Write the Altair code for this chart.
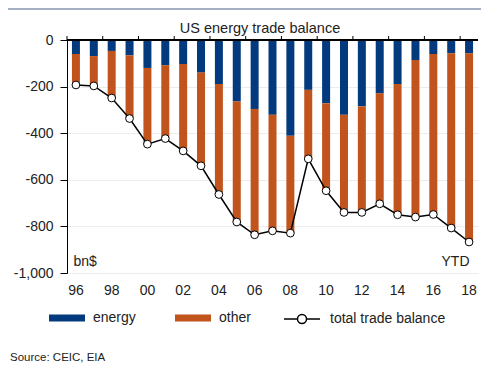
import altair as alt
import pandas as pd

years = ["96", "97", "98", "99", "00", "01", "02", "03", "04", "05", "06", "07",
         "08", "09", "10", "11", "12", "13", "14", "15", "16", "17", "18"]
energy = [-60, -69, -47, -66, -120, -108, -103, -140, -189, -264, -296, -321,
          -411, -214, -271, -321, -284, -229, -189, -86, -60, -57, -57]
other = [-133, -128, -202, -271, -327, -315, -373, -400, -474, -517, -540, -498,
         -418, -296, -376, -419, -456, -474, -561, -674, -689, -750, -810]
total = [-193, -197, -249, -337, -447, -423, -476, -540, -663, -781, -836, -819,
         -829, -510, -647, -740, -740, -703, -750, -760, -749, -807, -867]
label_years = ["96", "98", "00", "02", "04", "06", "08", "10", "12", "14", "16", "18"]
y_ticks = [0, -200, -400, -600, -800, -1000]

title_text = "US energy trade balance"
source_text = "Source: CEIC, EIA"
BLUE = "#033a7e"
ORANGE = "#c1531d"
FONT = "Liberation Sans"

W, H = 411, 233

bar_rows = []
for i, yr in enumerate(years):
    bar_rows.append({"year": yr, "series": "energy", "value": energy[i], "ord": 0})
    bar_rows.append({"year": yr, "series": "other", "value": other[i], "ord": 1})
bars_df = pd.DataFrame(bar_rows)
line_df = pd.DataFrame({"year": years, "total": total,
                        "name": ["total trade balance"] * len(years)})
tick_df = pd.DataFrame({"year": label_years})

xscale = alt.Scale(domain=years, paddingInner=0, paddingOuter=0)
yscale = alt.Scale(domain=[-1000, 0], nice=False)

x_enc = alt.X("year:O", scale=xscale, sort=years,
              axis=alt.Axis(values=label_years, ticks=False, domain=False,
                            labelAngle=0, labelPadding=10, labelFontSize=14,
                            labelFont=FONT, labelColor="#222222",
                            title="YTD", titleX=402, titleY=-8,
                            titleAlign="right", titleBaseline="alphabetic",
                            titleFontSize=14, titleFont=FONT,
                            titleFontWeight="normal", titleColor="#222222",
                            titleAnchor="end"))

path_bar = "M-1,-0.2H1V0.2H-1Z"
path_line = ("M-1,0H-0.25M0.25,0H1M0.25,0A0.25,0.25 0 1,1 -0.25,0"
             "A0.25,0.25 0 1,1 0.25,0")

bars = alt.Chart(bars_df).mark_bar(size=8).encode(
    x=x_enc,
    y=alt.Y("sum(value):Q", scale=yscale, stack="zero",
            axis=alt.Axis(values=y_ticks,
                          labelExpr="replace(format(datum.value, ',d'), '\u2212', '-')",
                          grid=True,
                          gridColor="#ececec", domainColor="black",
                          tickColor="black", tickSize=7, labelPadding=7,
                          labelFontSize=14, labelFont=FONT,
                          labelColor="#222222",
                          title="bn$", titleAngle=0, titleX=6, titleY=225,
                          titleAlign="left", titleBaseline="alphabetic",
                          titleFontSize=14, titleFont=FONT,
                          titleFontWeight="normal", titleColor="#222222")),
    color=alt.Color("series:N",
                    scale=alt.Scale(domain=["energy", "other"], range=[BLUE, ORANGE]),
                    legend=alt.Legend(orient="none", legendX=-18, legendY=260,
                                      direction="horizontal", title=None,
                                      symbolType=path_bar, symbolSize=1296,
                                      symbolStrokeWidth=0, labelFontSize=14,
                                      labelFont=FONT, labelColor="#222222",
                                      labelOffset=8, columnPadding=39)),
    order=alt.Order("ord:Q"),
)

line = alt.Chart(line_df).mark_line(color="black", strokeWidth=1.5).encode(
    x=alt.X("year:O", scale=xscale, sort=years),
    y=alt.Y("total:Q", scale=yscale),
    stroke=alt.Stroke("name:N", scale=alt.Scale(range=["black"]),
                      legend=alt.Legend(orient="none", legendX=216, legendY=260,
                                        title=None, symbolType=path_line,
                                        symbolSize=1296, symbolFillColor="white",
                                        symbolStrokeColor="black",
                                        symbolStrokeWidth=1.5, labelFontSize=14,
                                        labelFont=FONT, labelColor="#222222",
                                        labelOffset=9)),
)

points = alt.Chart(line_df).mark_point(filled=True, fill="white", stroke="black",
                                       strokeWidth=1, size=60, opacity=1).encode(
    x=alt.X("year:O", scale=xscale, sort=years),
    y=alt.Y("total:Q", scale=yscale),
)

zero = alt.Chart(line_df).mark_rule(color="black", strokeWidth=1.2).encode(
    y=alt.datum(0), x=alt.value(0), x2=alt.value(W)
)

ticks = alt.Chart(tick_df).mark_rule(color="black", strokeWidth=1).encode(
    x=alt.X("year:O", scale=xscale, sort=years, bandPosition=0),
    y=alt.value(-4), y2=alt.value(0)
)

title = alt.Chart(pd.DataFrame({"t": [title_text]})).mark_text(
    align="center", baseline="alphabetic", fontSize=14.5, font=FONT, color="#222222"
).encode(text="t:N", x=alt.value(193), y=alt.value(-7))

source = alt.Chart(pd.DataFrame({"t": [source_text]})).mark_text(
    align="left", baseline="bottom", fontSize=11.5, font=FONT, color="#222222"
).encode(text="t:N", x=alt.value(-57), y=alt.value(323))

border = alt.Chart(pd.DataFrame({"t": [0]})).mark_rule(
    color="#8a94b0", strokeWidth=1.5
).encode(x=alt.value(-59), x2=alt.value(W + 3), y=alt.value(-31))

chart = alt.layer(bars, line, points, zero, ticks, title, source, border).properties(
    width=W, height=H,
    autosize=alt.AutoSizeParams(type="none"),
    padding={"left": 59, "top": 32, "right": 3, "bottom": 91},
).resolve_scale(color="independent", stroke="independent").configure_view(
    stroke=None
)

chart.save("out.html", embed_options={"renderer": "svg", "actions": False})
